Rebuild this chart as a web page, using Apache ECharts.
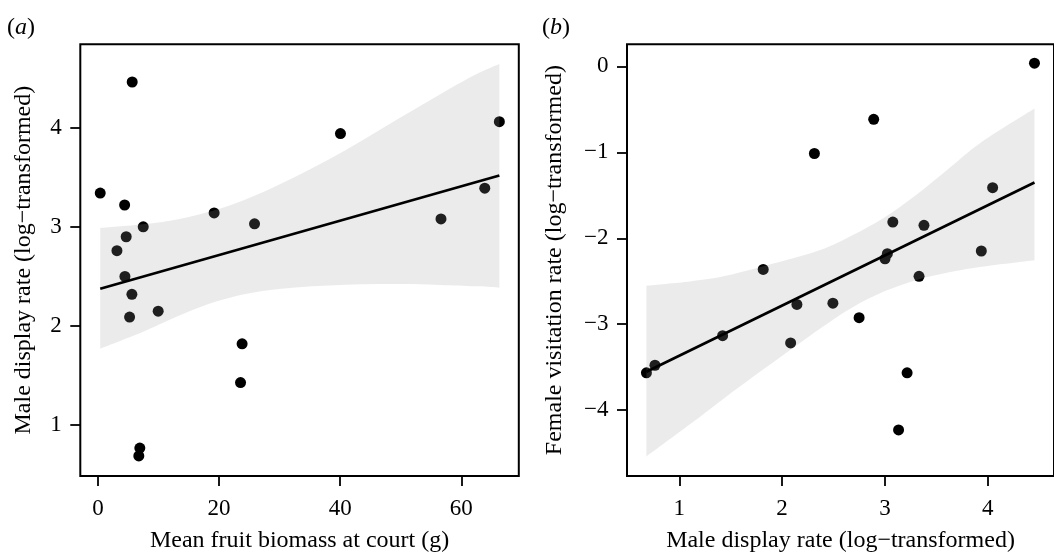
<!DOCTYPE html>
<html>
<head>
<meta charset="utf-8">
<script src="https://cdn.jsdelivr.net/npm/echarts@6/dist/echarts.min.js"></script>
<style>
html,body{margin:0;padding:0;background:#fff;}
#chart{width:1054px;height:558px;}
</style>
</head>
<body>
<div id="chart"></div>
<script>
// Panel (a): fruit biomass vs male display rate
const aX = [0.38, 5.66, 4.41, 7.48, 4.67, 3.14, 19.19, 25.86, 40.05, 56.65, 63.88, 66.29, 4.46, 5.61, 5.23, 9.95, 23.81, 23.55, 6.92, 6.75];
const aY = [3.34, 4.46, 3.22, 3.00, 2.90, 2.76, 3.14, 3.03, 3.94, 3.08, 3.39, 4.06, 2.50, 2.32, 2.09, 2.15, 1.82, 1.43, 0.77, 0.69];
const aFitX = [0.38, 66.29];
const aFitY = [2.376, 3.517];
const aBandX = [0.38, 7.87, 13.25, 18.86, 24.37, 29.87, 35.36, 40.87, 46.37, 51.87, 57.38, 62.87, 66.29];
const aBandUpper = [2.988, 3.028, 3.077, 3.16, 3.276, 3.425, 3.59, 3.772, 3.97, 4.169, 4.367, 4.55, 4.642];
const aBandLower = [1.772, 1.953, 2.10, 2.234, 2.323, 2.373, 2.40, 2.417, 2.423, 2.423, 2.412, 2.40, 2.387];
const aXTicks = [0, 20, 40, 60];
const aYTicks = [1, 2, 3, 4];

// Panel (b): male display rate vs female visitation rate
const bX = [4.455, 2.891, 2.314, 4.048, 3.077, 3.38, 3.024, 3.001, 3.938, 1.816, 3.332, 2.144, 2.494, 2.749, 1.421, 2.083, 0.763, 0.68, 3.216, 3.133];
const bY = [0.037, -0.616, -1.014, -1.411, -1.812, -1.85, -2.179, -2.239, -2.148, -2.362, -2.442, -2.77, -2.755, -2.923, -3.133, -3.217, -3.477, -3.565, -3.565, -4.229];
const bFitX = [0.68, 4.455];
const bFitY = [-3.553, -1.352];
const bBandX = [0.68, 1.103, 1.418, 1.835, 2.364, 2.679, 2.995, 3.31, 3.625, 3.941, 4.455];
const bBandUpper = [-2.552, -2.503, -2.446, -2.32, -2.14, -1.968, -1.758, -1.491, -1.186, -0.880, -0.49];
const bBandLower = [-4.538, -4.164, -3.877, -3.51, -3.056, -2.808, -2.617, -2.484, -2.396, -2.331, -2.255];
const bXTicks = [1, 2, 3, 4];
const bYTicks = [0, -1, -2, -3, -4];

const FONT = '"Liberation Serif", "Times New Roman", serif';
const fmt = v => (v < 0 ? '\u2212' + Math.abs(v) : String(v));

function pairs(xs, ys) { return xs.map((x, i) => [x, ys[i]]); }

// Smooth (Catmull-Rom) path segment commands through pixel points
function smoothCmds(pts) {
  let d = '';
  for (let i = 0; i < pts.length - 1; i++) {
    const p0 = pts[Math.max(i - 1, 0)], p1 = pts[i], p2 = pts[i + 1], p3 = pts[Math.min(i + 2, pts.length - 1)];
    const c1 = [p1[0] + (p2[0] - p0[0]) / 6, p1[1] + (p2[1] - p0[1]) / 6];
    const c2 = [p2[0] - (p3[0] - p1[0]) / 6, p2[1] - (p3[1] - p1[1]) / 6];
    d += ' C' + c1[0] + ',' + c1[1] + ' ' + c2[0] + ',' + c2[1] + ' ' + p2[0] + ',' + p2[1];
  }
  return d;
}

function bandSeries(idx, xs, up, lo) {
  return {
    type: 'custom',
    xAxisIndex: idx, yAxisIndex: idx,
    z: 3,
    silent: true,
    data: [[xs[0], up[0]]],
    renderItem: function (params, api) {
      const u = xs.map((x, i) => api.coord([x, up[i]]));
      const l = xs.map((x, i) => api.coord([x, lo[i]])).reverse();
      const d = 'M' + u[0][0] + ',' + u[0][1] + smoothCmds(u) +
        ' L' + l[0][0] + ',' + l[0][1] + smoothCmds(l) + ' Z';
      return {
        type: 'path',
        shape: { pathData: d },
        style: { fill: 'rgba(153,153,153,0.2)', stroke: null }
      };
    }
  };
}

function xAxisCfg(idx, min, max, ticks, name) {
  return {
    type: 'value', gridIndex: idx, min: min, max: max,
    splitLine: { show: false },
    axisLine: { show: false, onZero: false },
    axisTick: { show: true, length: 10, inside: false, customValues: ticks, lineStyle: { color: '#000', width: 1.8 } },
    axisLabel: { show: true, customValues: ticks, formatter: fmt, margin: 21, color: '#000', fontFamily: FONT, fontSize: 23 },
    name: name, nameLocation: 'middle', nameGap: 53,
    nameTextStyle: { color: '#000', fontFamily: FONT, fontSize: 24 }
  };
}
function yAxisCfg(idx, min, max, ticks, name, gap) {
  return {
    type: 'value', gridIndex: idx, min: min, max: max,
    splitLine: { show: false },
    axisLine: { show: false, onZero: false },
    axisTick: { show: true, length: 10, inside: false, customValues: ticks, lineStyle: { color: '#000', width: 1.8 } },
    axisLabel: { show: true, customValues: ticks, formatter: fmt, margin: 18.5, color: '#000', fontFamily: FONT, fontSize: 23 },
    name: name, nameLocation: 'middle', nameGap: gap, nameRotate: 90,
    nameTextStyle: { color: '#000', fontFamily: FONT, fontSize: 24 }
  };
}

const labelRich = {
  p: { fontFamily: FONT, fontSize: 24, fill: '#000' },
  i: { fontFamily: FONT, fontSize: 24, fontStyle: 'italic', fill: '#000' }
};

const chart = echarts.init(document.getElementById('chart'), null, { renderer: 'canvas' });
chart.setOption({
  animation: false,
  backgroundColor: '#fff',
  grid: [
    { left: 80.3, top: 44.3, right: 535.2, bottom: 75.5, show: true, borderColor: '#000', borderWidth: 2, backgroundColor: 'transparent' },
    { left: 627, top: 44.3, right: -12, bottom: 75.5, show: true, borderColor: '#000', borderWidth: 2, backgroundColor: 'transparent' }
  ],
  xAxis: [
    xAxisCfg(0, -2.91, 69.5, aXTicks, 'Mean fruit biomass at court (g)'),
    xAxisCfg(1, 0.491, 4.645, bXTicks, 'Male display rate (log\u2212transformed)')
  ],
  yAxis: [
    yAxisCfg(0, 0.488, 4.84, aYTicks, 'Male display rate (log\u2212transformed)', 45),
    yAxisCfg(1, -4.765, 0.256, bYTicks, 'Female visitation rate (log\u2212transformed)', 60)
  ],
  graphic: [
    { type: 'text', left: 7, top: 16, style: { text: '{p|(}{i|a}{p|)}', rich: labelRich } },
    { type: 'text', left: 542, top: 16, style: { text: '{p|(}{i|b}{p|)}', rich: labelRich } }
  ],
  series: [
    { type: 'scatter', xAxisIndex: 0, yAxisIndex: 0, z: 2, symbol: 'circle', symbolSize: 11, itemStyle: { color: '#000', opacity: 1 }, data: pairs(aX, aY) },
    bandSeries(0, aBandX, aBandUpper, aBandLower),
    { type: 'line', xAxisIndex: 0, yAxisIndex: 0, z: 4, showSymbol: false, symbol: 'none', lineStyle: { color: '#000', width: 2.7 }, data: pairs(aFitX, aFitY) },
    { type: 'scatter', xAxisIndex: 1, yAxisIndex: 1, z: 2, symbol: 'circle', symbolSize: 11, itemStyle: { color: '#000', opacity: 1 }, data: pairs(bX, bY) },
    bandSeries(1, bBandX, bBandUpper, bBandLower),
    { type: 'line', xAxisIndex: 1, yAxisIndex: 1, z: 4, showSymbol: false, symbol: 'none', lineStyle: { color: '#000', width: 2.7 }, data: pairs(bFitX, bFitY) }
  ]
});
</script>
</body>
</html>
